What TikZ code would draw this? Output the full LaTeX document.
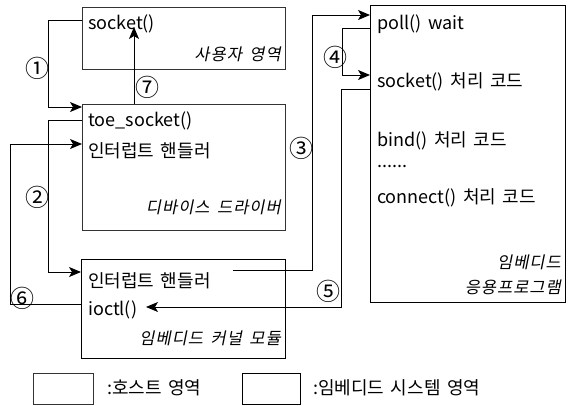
\documentclass[tikz,border=0pt]{standalone}
\usepackage{fontspec}
\setmainfont{Noto Sans CJK KR}[WordSpace=1.6]
\newfontfamily\kit{Noto Sans CJK KR}[FakeSlant=0.2,LetterSpace=6,WordSpace=1.6]
\usepackage{tikz}
\usetikzlibrary{arrows.meta,calc}
\tikzstyle{hb}=[draw=black!80,line width=0.7pt,inner sep=0pt,anchor=north west]
\tikzstyle{eb}=[draw=black,line width=0.9pt,inner sep=0pt,anchor=north west]
\tikzstyle{tx}=[anchor=west,inner sep=0pt,font=\fontsize{18}{20}\selectfont]
\tikzstyle{lb}=[anchor=east,inner sep=0pt,font=\kit\fontsize{16.5}{18}\selectfont]
\tikzstyle{nr}=[inner sep=0pt,font=\fontsize{24}{24}\selectfont]
\tikzstyle{ln}=[line width=0.9pt,-{Stealth[length=12pt,width=10pt,inset=3pt]}]

\begin{document}
\begin{tikzpicture}[x=1pt,y=-1pt]
    \useasboundingbox [fill=white] (0,0) rectangle (576,405);
    % host side
    \node [style=hb,minimum width=203pt,minimum height=62pt] (u) at (82,7) {};
    \node [style=hb,minimum width=203pt,minimum height=126pt] (d) at (82,104) {};
    \node [style=tx] (u1) at (88,24) {socket()};
    \node [style=lb] (u2) at (281,54) {사용자 영역};
    \node [style=tx] (d1) at (88,121) {toe\_socket()};
    \node [style=tx] (d2) at (88,151) {인터럽트 핸들러};
    \node [style=lb] (d3) at (281,207) {디바이스 드라이버};
    % embedded side
    \node [style=eb,minimum width=204pt,minimum height=99pt] (k) at (81,259) {};
    \node [style=eb,minimum width=195pt,minimum height=297pt] (a) at (370,5) {};
    \node [style=tx] (k1) at (88,281) {인터럽트 핸들러};
    \node [style=tx] (k2) at (88,310) {ioctl()};
    \node [style=lb] (k3) at (281,338) {임베디드 커널 모듈};
    \node [style=tx] (a1) at (377,24) {poll() wait};
    \node [style=tx] (a2) at (377,82) {socket() 처리 코드};
    \node [style=tx] (a3) at (377,141) {bind() 처리 코드};
    \node [style=tx] (a4) at (377,166) {......};
    \node [style=tx] (a5) at (377,198) {connect() 처리 코드};
    \node [style=lb] (a6) at (561,262) {임베디드};
    \node [style=lb] (a7) at (561,287) {응용프로그램};
    % legend
    \node [style=hb,minimum width=60pt,minimum height=31pt] (h) at (33,373) {};
    \node [style=eb,minimum width=58pt,minimum height=31pt] (e) at (242,373) {};
    \node [style=tx] (h1) at (107,388) {:호스트 영역};
    \node [style=tx] (e1) at (313,388) {:임베디드 시스템 영역};
    % numbers
    \node [style=nr] (n1) at (37,68) {①};
    \node [style=nr] (n2) at (37,197) {②};
    \node [style=nr] (n3) at (301,148) {③};
    \node [style=nr] (n4) at (335,57) {④};
    \node [style=nr] (n5) at (328,291) {⑤};
    \node [style=nr] (n6) at (22,298) {⑥};
    \node [style=nr] (n7) at (147,87) {⑦};
    % connectors
    \coordinate (c1) at (u.west |- 0,20);
    \coordinate (c2) at (d.west |- 0,107);
    \coordinate (c3) at (d.west |- 0,120);
    \coordinate (c4) at (k.west |- 0,272);
    \coordinate (c5) at (k.west |- 0,304);
    \coordinate (c6) at (d.west |- 0,144);
    \coordinate (c7) at (233,270);
    \coordinate (c8) at (a.west |- 0,15);
    \coordinate (c9) at (a.west |- 0,28);
    \coordinate (c10) at (a.west |- 0,75);
    \coordinate (c11) at (a.west |- 0,89);
    \coordinate (c12) at (146,307);
    \coordinate (c13) at (134,104);
    \coordinate (c14) at (134,27);
    \draw [style=ln] (c1) -- (48,20) -- (48,107) -- (c2);
    \draw [style=ln] (c3) -- (48,120) -- (48,272) -- (c4);
    \draw [style=ln] (c5) -- (10,304) -- (10,144) -- (c6);
    \draw [style=ln] (c7) -- (312,270) -- (312,15) -- (c8);
    \draw [style=ln] (c9) -- (342,28) -- (342,75) -- (c10);
    \draw [style=ln] (c11) -- (341,89) -- (341,307) -- (c12);
    \draw [style=ln] (c13) -- (c14);
\end{tikzpicture}
\end{document}
